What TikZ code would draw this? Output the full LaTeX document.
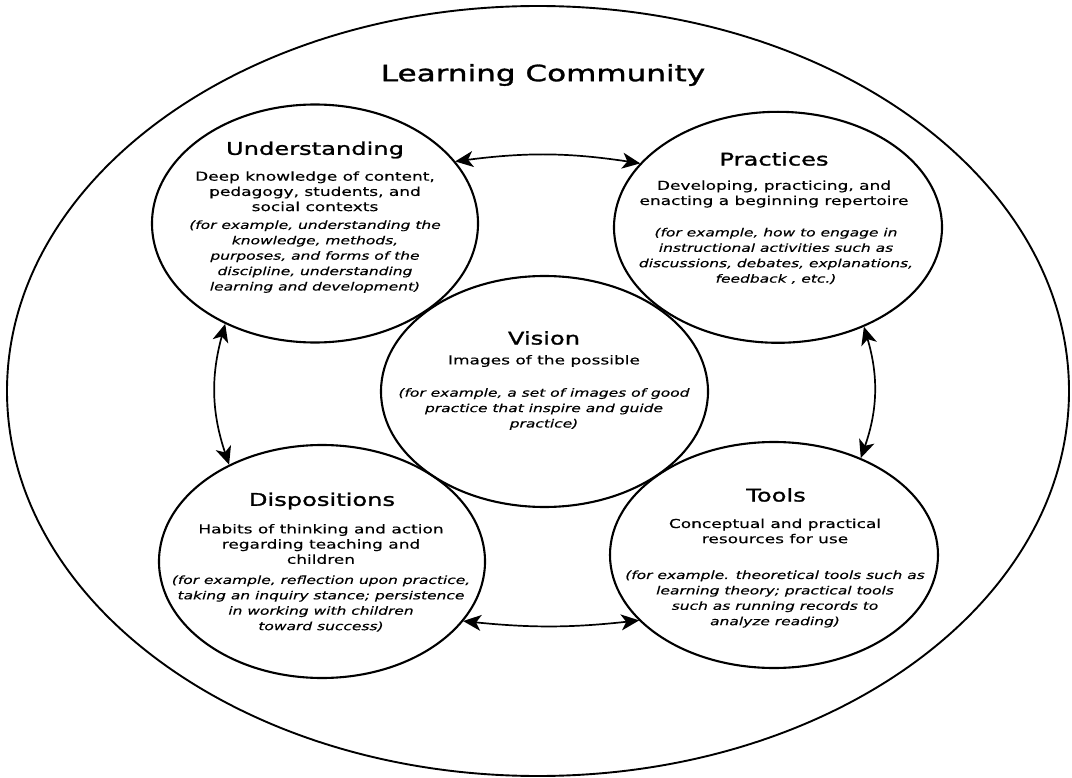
\documentclass[tikz,border=0pt]{standalone}
\usepackage{fontspec}
\setmainfont{DejaVu Sans}[FakeStretch=1.38,FakeBold=0.4]
\newfontfamily\titlefont{DejaVu Sans}[FakeStretch=1.38,FakeBold=1.4]
\usetikzlibrary{shapes.geometric,arrows.meta}
\tikzset{
  outerring/.style={draw, ellipse, line width=1.9pt, inner sep=0pt, outer sep=0pt},
  ring/.style={draw, ellipse, line width=2.1pt, inner sep=0pt, outer sep=0pt},
  bigtitle/.style={font=\titlefont\fontsize{22.5}{26}\selectfont, inner sep=0pt},
  ttl/.style={font=\titlefont\fontsize{17.5}{20}\selectfont, inner sep=0pt},
  bodytxt/.style={font=\fontsize{12.3}{15.2}\selectfont, align=center, inner sep=0pt},
  extxt/.style={font=\itshape\fontsize{11.2}{15.4}\selectfont, align=center, inner sep=0pt},
  link/.style={line width=1.7pt, <->, >={Stealth[length=18pt,width=16pt,inset=5pt]}, shorten <=1pt, shorten >=1pt}
}
\begin{document}
\begin{tikzpicture}[x=1pt,y=-1pt]
\useasboundingbox (0,0) rectangle (1072,778);
\node[outerring, minimum width=1062pt, minimum height=770pt] (lc) at (538,391) {};
\node[bigtitle] (lct) at (543,75) {Learning Community};

\node[ring, minimum width=326pt, minimum height=238pt] (und) at (315,223.5) {};
\node[ring, minimum width=328pt, minimum height=231pt] (pra) at (778,227.3) {};
\node[ring, minimum width=327pt, minimum height=231pt] (vis) at (544.5,391.5) {};
\node[ring, minimum width=326pt, minimum height=233pt] (dis) at (322,561.5) {};
\node[ring, minimum width=328pt, minimum height=226pt] (too) at (774,555) {};

% Understanding
\node[ttl] (undt) at (315,150) {Understanding};
\node[bodytxt] (undb) at (315,191.3) {Deep knowledge of content,\\pedagogy, students, and\\social contexts};
\node[extxt] (unde) at (315,256.6) {(for example, understanding the\\knowledge, methods,\\purposes, and forms of the\\discipline, understanding\\learning and development)};

% Practices
\node[ttl] (prat) at (774,159) {Practices};
\node[bodytxt] (prab) at (774,194) {Developing, practicing, and\\enacting a beginning repertoire};
\node[extxt] (prae) at (776,256) {(for example, how to engage in\\instructional activities such as\\discussions, debates, explanations,\\feedback , etc.)};

% Vision
\node[ttl] (vist) at (544,338) {Vision};
\node[bodytxt] (visb) at (544,361) {Images of the possible};
\node[extxt] (vise) at (544,409) {(for example, a set of images of good\\practice that inspire and guide\\practice)};

% Dispositions
\node[ttl] (dist) at (322,501) {Dispositions};
\node[bodytxt] (disb) at (321,544) {Habits of thinking and action\\regarding teaching and\\children};
\node[extxt] (dise) at (321,603.5) {(for example, reflection upon practice,\\taking an inquiry stance; persistence\\in working with children\\toward success)};

% Tools
\node[ttl] (toot) at (776,495) {Tools};
\node[bodytxt] (toob) at (775,531) {Conceptual and practical\\resources for use};
\node[extxt] (tooe) at (775,599) {(for example. theoretical tools such as\\learning theory; practical tools\\such as running records to\\analyze reading)};

% connectors
\draw[link] (und.24) to[bend left=8] (pra.155);
\draw[link] (und.228) to[bend right=17] (dis.134);
\draw[link] (pra.311) to[bend left=18] (too.48);
\draw[link] (dis.337) to[bend right=6] (too.206);
\end{tikzpicture}
\end{document}
